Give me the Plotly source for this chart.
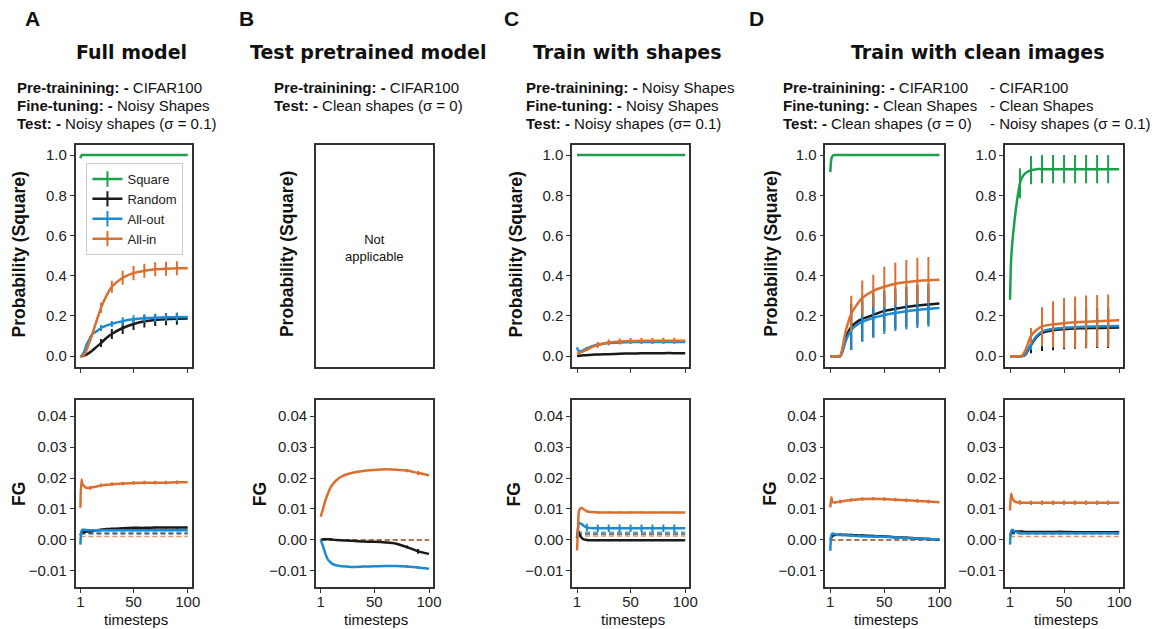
import plotly.graph_objects as go

W, H = 1168, 629          # browser window
OFF = 8                    # page body margin: figure starts 8px in
FW, FH = W - OFF, H - OFF  # figure size

# ---------------- data ----------------
T = [1, 2, 3, 5, 7, 10, 12, 15, 20, 25, 30, 40, 50, 60, 70, 80, 90, 100]
ERR_T = [10, 20, 30, 40, 50, 60, 70, 80, 90]
SERIES = ["Square", "Random", "All-out", "All-in"]
COLORS = {"Square": "#1aa04a", "Random": "#1a1a1a", "All-out": "#1b8ad3", "All-in": "#db6f30"}

# Panel A (full model)
A_prob_square = [0.985, 0.998, 1.0, 1.0, 1.0, 1.0, 1.0, 1.0, 1.0, 1.0, 1.0, 1.0, 1.0, 1.0, 1.0, 1.0, 1.0, 1.0]
A_prob_random = [0.0, 0.0, 0.001, 0.004, 0.009, 0.02, 0.028, 0.042, 0.065, 0.09, 0.11, 0.14, 0.16, 0.173, 0.18, 0.184, 0.186, 0.187]
A_prob_allout = [0.0, 0.002, 0.008, 0.03, 0.06, 0.09, 0.11, 0.12, 0.14, 0.152, 0.16, 0.174, 0.183, 0.188, 0.191, 0.193, 0.194, 0.195]
A_prob_allin = [0.0, 0.0, 0.002, 0.012, 0.035, 0.08, 0.11, 0.16, 0.24, 0.30, 0.345, 0.39, 0.413, 0.425, 0.432, 0.435, 0.437, 0.437]
A_prob_square_err = [0, 0, 0, 0, 0, 0, 0, 0, 0]
A_prob_random_err = [0.005, 0.02, 0.025, 0.03, 0.03, 0.03, 0.03, 0.03, 0.03]
A_prob_allout_err = [0.01, 0.015, 0.015, 0.02, 0.02, 0.02, 0.02, 0.02, 0.02]
A_prob_allin_err = [0.01, 0.025, 0.03, 0.035, 0.035, 0.035, 0.035, 0.035, 0.035]

A_fg_random = [0.0015, 0.0023, 0.0025, 0.0026, 0.0027, 0.0028, 0.0029, 0.0031, 0.0033, 0.0035, 0.0036, 0.0038, 0.0039, 0.0039, 0.004, 0.004, 0.004, 0.004]
A_fg_allout = [-0.0015, 0.0028, 0.0033, 0.0033, 0.0032, 0.0031, 0.0031, 0.0031, 0.0031, 0.0031, 0.0031, 0.0031, 0.0031, 0.0031, 0.0031, 0.0031, 0.0031, 0.0031]
A_fg_allin = [0.0104, 0.0195, 0.018, 0.0172, 0.0168, 0.0168, 0.017, 0.0172, 0.0176, 0.0178, 0.018, 0.0182, 0.0184, 0.0185, 0.0185, 0.0185, 0.0186, 0.0186]
A_fg_random_err = [0.0003] * 9
A_fg_allout_err = [0.0003] * 9
A_fg_allin_err = [0.0006] * 9
A_fg_baseline = {"Random": 0.002, "All-out": 0.0024, "All-in": 0.0011}

# Panel B (test pretrained model)
B_fg_random = [0.0, 0.0001, 0.0002, 0.0002, 0.0002, 0.0002, 0.0001, 0.0, -0.0001, -0.0002, -0.0003, -0.0005, -0.0006, -0.0008, -0.0012, -0.0023, -0.0037, -0.0045]
B_fg_allout = [0.0, -0.001, -0.002, -0.0042, -0.006, -0.0073, -0.0078, -0.0082, -0.0085, -0.0086, -0.0087, -0.0086, -0.0085, -0.0084, -0.0084, -0.0086, -0.0089, -0.0093]
B_fg_allin = [0.0075, 0.0088, 0.01, 0.0125, 0.0145, 0.017, 0.018, 0.0192, 0.0205, 0.0212, 0.0217, 0.0223, 0.0226, 0.0228, 0.0227, 0.0224, 0.0216, 0.0209]
B_fg_random_err = [0, 0, 0, 0, 0.0001, 0.0002, 0.0003, 0.0005, 0.0008]
B_fg_allout_err = [0, 0, 0, 0.0001, 0.0002, 0.0003, 0.0003, 0.0004, 0.0005]
B_fg_allin_err = [0, 0, 0, 0.0002, 0.0002, 0.0003, 0.0003, 0.0005, 0.0007]
B_fg_baseline = {"Random": 0.0, "All-in": 0.0}

# Panel C (train with shapes)
C_prob_square = [1.0] * 18
C_prob_random = [0.0, 0.001, 0.002, 0.003, 0.004, 0.005, 0.006, 0.007, 0.008, 0.009, 0.01, 0.012, 0.013, 0.014, 0.014, 0.015, 0.015, 0.015]
C_prob_allout = [0.044, 0.03, 0.025, 0.025, 0.03, 0.038, 0.043, 0.05, 0.057, 0.062, 0.065, 0.068, 0.07, 0.07, 0.07, 0.07, 0.07, 0.07]
C_prob_allin = [0.012, 0.014, 0.016, 0.02, 0.025, 0.033, 0.038, 0.046, 0.056, 0.063, 0.068, 0.073, 0.075, 0.076, 0.077, 0.077, 0.077, 0.077]
C_prob_square_err = [0] * 9
C_prob_random_err = [0.002] * 9
C_prob_allout_err = [0.008] * 9
C_prob_allin_err = [0.008, 0.015, 0.015, 0.015, 0.015, 0.015, 0.015, 0.015, 0.015]

C_fg_random = [0.0005, 0.003, 0.002, 0.0008, 0.0002, 0.0, -0.0001, -0.0001, -0.0001, -0.0001, -0.0001, -0.0001, -0.0001, -0.0001, -0.0001, -0.0001, -0.0001, -0.0001]
C_fg_allout = [0.001, 0.004, 0.0055, 0.0052, 0.0046, 0.004, 0.0039, 0.0038, 0.0038, 0.0038, 0.0038, 0.0038, 0.0038, 0.0038, 0.0038, 0.0038, 0.0038, 0.0038]
C_fg_allin = [-0.0034, 0.004, 0.0095, 0.0104, 0.0099, 0.0093, 0.0091, 0.009, 0.0089, 0.0089, 0.0089, 0.0089, 0.0089, 0.0089, 0.0089, 0.0089, 0.0089, 0.0089]
C_fg_random_err = [0.0003] * 9
C_fg_allout_err = [0.0012] * 9
C_fg_allin_err = [0.0004] * 9
C_fg_baseline = {"Random": 0.0019, "All-out": 0.0025, "All-in": 0.0013}

# Panel D, left (clean shapes test)
D1_prob_square = [0.915, 0.98, 0.995, 1.0, 1.0, 1.0, 1.0, 1.0, 1.0, 1.0, 1.0, 1.0, 1.0, 1.0, 1.0, 1.0, 1.0, 1.0]
D1_prob_random = [0.0, 0.0, 0.0, 0.0, 0.0, 0.0, 0.03, 0.09, 0.145, 0.17, 0.185, 0.205, 0.225, 0.235, 0.245, 0.252, 0.257, 0.262]
D1_prob_allout = [0.0, 0.0, 0.0, 0.0, 0.0, 0.0, 0.02, 0.075, 0.13, 0.155, 0.17, 0.19, 0.205, 0.215, 0.223, 0.23, 0.236, 0.24]
D1_prob_allin = [0.0, 0.0, 0.0, 0.0, 0.0, 0.0, 0.04, 0.125, 0.21, 0.255, 0.29, 0.325, 0.345, 0.36, 0.368, 0.374, 0.378, 0.38]
D1_prob_square_err = [0] * 9
D1_prob_random_err = [0, 0.115, 0.11, 0.11, 0.1, 0.1, 0.1, 0.1, 0.1]
D1_prob_allout_err = [0, 0.1, 0.1, 0.1, 0.095, 0.09, 0.09, 0.09, 0.09]
D1_prob_allin_err = [0, 0.09, 0.086, 0.08, 0.1, 0.106, 0.11, 0.115, 0.115]

D1_fg_random = [0.0, 0.0008, 0.0013, 0.0016, 0.0017, 0.0017, 0.0017, 0.0017, 0.0016, 0.0015, 0.0014, 0.0013, 0.0011, 0.0009, 0.0007, 0.0005, 0.0003, 0.0001]
D1_fg_allout = [-0.0035, 0.0015, 0.0021, 0.0019, 0.0017, 0.0016, 0.0015, 0.0015, 0.0014, 0.0013, 0.0012, 0.0011, 0.001, 0.0008, 0.0006, 0.0005, 0.0003, 0.0002]
D1_fg_allin = [0.0105, 0.0138, 0.0122, 0.0121, 0.0122, 0.0124, 0.0125, 0.0127, 0.0129, 0.0131, 0.0132, 0.0133, 0.0132, 0.013, 0.0128, 0.0126, 0.0124, 0.0122]
D1_fg_random_err = [0.0004] * 9
D1_fg_allout_err = [0.0003] * 9
D1_fg_allin_err = [0.0006] * 9
D1_fg_baseline = {"Random": 0.0, "All-in": 0.0}

# Panel D, right (noisy shapes test)
D2_prob_square = [0.28, 0.48, 0.56, 0.67, 0.76, 0.86, 0.89, 0.91, 0.925, 0.93, 0.93, 0.93, 0.93, 0.93, 0.93, 0.93, 0.93, 0.93]
D2_prob_random = [0.0, 0.0, 0.0, 0.0, 0.0, 0.0, 0.0, 0.008, 0.055, 0.095, 0.116, 0.129, 0.134, 0.137, 0.139, 0.14, 0.141, 0.142]
D2_prob_allout = [0.0, 0.0, 0.0, 0.0, 0.0, 0.0, 0.0, 0.01, 0.06, 0.1, 0.122, 0.136, 0.141, 0.144, 0.146, 0.148, 0.149, 0.15]
D2_prob_allin = [0.0, 0.0, 0.0, 0.0, 0.0, 0.0, 0.003, 0.03, 0.1, 0.13, 0.148, 0.158, 0.164, 0.168, 0.171, 0.174, 0.176, 0.178]
D2_prob_square_err = [0.075, 0.07, 0.07, 0.07, 0.07, 0.07, 0.07, 0.07, 0.07]
D2_prob_random_err = [0, 0.04, 0.09, 0.1, 0.1, 0.1, 0.1, 0.1, 0.1]
D2_prob_allout_err = [0, 0.03, 0.075, 0.08, 0.08, 0.08, 0.08, 0.08, 0.08]
D2_prob_allin_err = [0, 0.04, 0.095, 0.115, 0.125, 0.128, 0.13, 0.13, 0.13]

D2_fg_random = [0.0015, 0.0022, 0.0026, 0.0027, 0.0027, 0.0027, 0.0027, 0.0026, 0.0026, 0.0026, 0.0026, 0.0026, 0.0026, 0.0025, 0.0025, 0.0025, 0.0025, 0.0025]
D2_fg_allout = [-0.0015, 0.0028, 0.0033, 0.0028, 0.0025, 0.0023, 0.0022, 0.0022, 0.0022, 0.0022, 0.0022, 0.0022, 0.0022, 0.0022, 0.0022, 0.0022, 0.0022, 0.0022]
D2_fg_allin = [0.0095, 0.015, 0.0135, 0.0125, 0.0122, 0.0121, 0.012, 0.012, 0.012, 0.012, 0.012, 0.012, 0.012, 0.012, 0.012, 0.012, 0.012, 0.012]
D2_fg_random_err = [0.0003] * 9
D2_fg_allout_err = [0.0002] * 9
D2_fg_allin_err = [0.0007] * 9
D2_fg_baseline = {"Random": 0.002, "All-in": 0.0011}

X_TICKS = [1, 50, 100]
PROB_TICKS = [0.0, 0.2, 0.4, 0.6, 0.8, 1.0]
FG_TICKS = [-0.01, 0.0, 0.01, 0.02, 0.03, 0.04]

# ---------------- layout geometry (window pixels) ----------------
COLS = {"A": (76, 193), "B": (318, 436), "C": (576, 694), "D1": (831, 950), "D2": (1012, 1131)}
ROWS = {"top": (145, 367), "bottom": (400, 587)}
XR = [-3.5, 103.7]
YR_TOP = [-0.054, 1.05]
YR_BOT = [-0.0152, 0.0452]


def px(x):
    return (x - OFF) / FW


def py(y):
    return 1 - (y - OFF) / FH


fig = go.Figure()
layout = {}


def full_err(err):
    m = dict(zip(ERR_T, err))
    return [m.get(t, 0.0) for t in T]


def add_panel(i, col, row, series=None, baseline=None, empty=False):
    xa = "x" if i == 1 else f"x{i}"
    ya = "y" if i == 1 else f"y{i}"
    l, r = COLS[col]
    t, b = ROWS[row]
    common = dict(showline=True, mirror=True, linecolor="#333333", linewidth=1.5,
                  ticks="outside", ticklen=4, tickwidth=1.3, tickcolor="#333333",
                  showgrid=False, zeroline=False,
                  tickfont=dict(size=15, color="#222222"))
    xax = dict(common, domain=[px(l), px(r)], anchor=ya, range=XR, tickvals=X_TICKS,
               showticklabels=(row == "bottom"), ticklabelstandoff=-4)
    if row == "top":
        yax = dict(common, domain=[py(b), py(t)], anchor=xa, range=YR_TOP,
                   tickvals=PROB_TICKS, tickformat=".1f")
    else:
        yax = dict(common, domain=[py(b), py(t)], anchor=xa, range=YR_BOT,
                   tickvals=FG_TICKS, tickformat=".2f")
    if empty:
        xax.update(ticks="", showticklabels=False)
        yax.update(ticks="", showticklabels=False)
        fig.add_trace(go.Scatter(x=[], y=[], xaxis=xa, yaxis=ya, showlegend=False))
    layout["xaxis" if i == 1 else f"xaxis{i}"] = xax
    layout["yaxis" if i == 1 else f"yaxis{i}"] = yax
    if empty:
        return
    if baseline:
        for name in SERIES:
            if name in baseline:
                v = baseline[name]
                fig.add_trace(go.Scatter(
                    x=[T[0], T[-1]], y=[v, v], mode="lines", xaxis=xa, yaxis=ya,
                    line=dict(color=COLORS[name], width=1.5, dash="5px,3px"),
                    opacity=0.75, showlegend=False, hoverinfo="skip"))
    for name in SERIES:
        if name not in series:
            continue
        vals, err = series[name]
        fig.add_trace(go.Scatter(
            x=T, y=vals, mode="lines", xaxis=xa, yaxis=ya, showlegend=False,
            line=dict(color=COLORS[name], width=2.5, shape="spline", smoothing=0.8),
            error_y=dict(type="data", array=full_err(err), symmetric=True, width=0,
                         thickness=2, color=COLORS[name])))


add_panel(1, "A", "top", {"Square": (A_prob_square, A_prob_square_err),
                          "Random": (A_prob_random, A_prob_random_err),
                          "All-out": (A_prob_allout, A_prob_allout_err),
                          "All-in": (A_prob_allin, A_prob_allin_err)})
add_panel(2, "A", "bottom", {"Random": (A_fg_random, A_fg_random_err),
                             "All-out": (A_fg_allout, A_fg_allout_err),
                             "All-in": (A_fg_allin, A_fg_allin_err)}, A_fg_baseline)
add_panel(3, "B", "top", empty=True)
add_panel(4, "B", "bottom", {"Random": (B_fg_random, B_fg_random_err),
                             "All-out": (B_fg_allout, B_fg_allout_err),
                             "All-in": (B_fg_allin, B_fg_allin_err)}, B_fg_baseline)
add_panel(5, "C", "top", {"Square": (C_prob_square, C_prob_square_err),
                          "Random": (C_prob_random, C_prob_random_err),
                          "All-out": (C_prob_allout, C_prob_allout_err),
                          "All-in": (C_prob_allin, C_prob_allin_err)})
add_panel(6, "C", "bottom", {"Random": (C_fg_random, C_fg_random_err),
                             "All-out": (C_fg_allout, C_fg_allout_err),
                             "All-in": (C_fg_allin, C_fg_allin_err)}, C_fg_baseline)
add_panel(7, "D1", "top", {"Square": (D1_prob_square, D1_prob_square_err),
                           "Random": (D1_prob_random, D1_prob_random_err),
                           "All-out": (D1_prob_allout, D1_prob_allout_err),
                           "All-in": (D1_prob_allin, D1_prob_allin_err)})
add_panel(8, "D1", "bottom", {"Random": (D1_fg_random, D1_fg_random_err),
                              "All-out": (D1_fg_allout, D1_fg_allout_err),
                              "All-in": (D1_fg_allin, D1_fg_allin_err)}, D1_fg_baseline)
add_panel(9, "D2", "top", {"Square": (D2_prob_square, D2_prob_square_err),
                           "Random": (D2_prob_random, D2_prob_random_err),
                           "All-out": (D2_prob_allout, D2_prob_allout_err),
                           "All-in": (D2_prob_allin, D2_prob_allin_err)})
add_panel(10, "D2", "bottom", {"Random": (D2_fg_random, D2_fg_random_err),
                               "All-out": (D2_fg_allout, D2_fg_allout_err),
                               "All-in": (D2_fg_allin, D2_fg_allin_err)}, D2_fg_baseline)

# legend entries (panel A)
for name in SERIES:
    fig.add_trace(go.Scatter(
        x=[None], y=[None], mode="lines+markers", name=name, xaxis="x", yaxis="y",
        line=dict(color=COLORS[name], width=2.5),
        marker=dict(symbol="line-ns-open", size=11, color=COLORS[name],
                    line=dict(color=COLORS[name], width=2))))

# ---------------- text ----------------
ann = []


def text(s, x, y, size, bold=False, angle=0, xanchor="center", yanchor="middle",
         family="Liberation Sans, Arial, sans-serif", color="#111111"):
    ann.append(dict(text=(f"<b>{s}</b>" if bold else s), x=px(x), y=py(y),
                    xref="paper", yref="paper", showarrow=False, textangle=angle,
                    xanchor=xanchor, yanchor=yanchor,
                    font=dict(size=size, family=family, color=color)))


for letter, x in [("A", 33), ("B", 248), ("C", 515), ("D", 762)]:
    text(letter, x, 19, 21, bold=True)

TITLE_FONT = "DejaVu Sans, Arial Black, sans-serif"
for title, x in [("Full model", 132), ("Test pretrained model", 371),
                 ("Train with shapes", 631), ("Train with clean images", 985)]:
    text(title, x, 52, 19, bold=True, family=TITLE_FONT)

LINE_Y = [87, 105.5, 124]
SUBTITLES = [
    (15, [("Pre-trainining:", "CIFAR100"), ("Fine-tuning:", "Noisy Shapes"),
          ("Test:", "Noisy shapes (σ = 0.1)")]),
    (274, [("Pre-trainining:", "CIFAR100"), ("Test:", "Clean shapes (σ = 0)")]),
    (528, [("Pre-trainining:", "Noisy Shapes"), ("Fine-tuning:", "Noisy Shapes"),
           ("Test:", "Noisy shapes (σ= 0.1)")]),
    (786, [("Pre-trainining:", "CIFAR100"), ("Fine-tuning:", "Clean Shapes"),
           ("Test:", "Clean shapes (σ = 0)")]),
]
for x0, lines in SUBTITLES:
    for (lab, val), y in zip(lines, LINE_Y):
        text(f"<b>{lab} -</b> {val}", x0, y, 15, xanchor="left")
for val, y in zip(["- CIFAR100", "- Clean Shapes", "- Noisy shapes (σ = 0.1)"], LINE_Y):
    text(val, 995, y, 15, xanchor="left")

for x in [19.5, 289, 520, 776]:
    text("Probability (Square)", x, 254, 17.5, bold=True, angle=-90)
for x in [19, 262, 518, 775]:
    text("FG", x, 494, 17.5, bold=True, angle=-90)

for col in ["A", "B", "C", "D1", "D2"]:
    l, r = COLS[col]
    text("timesteps", (l + r) / 2 + 2, 619, 15)

text("Not<br>applicable", 377, 248, 13)

layout.update(
    width=FW, height=FH, margin=dict(l=0, r=0, t=0, b=0),
    paper_bgcolor="white", plot_bgcolor="white",
    font=dict(family="Liberation Sans, Arial, sans-serif", color="#222222"),
    showlegend=True,
    legend=dict(x=px(87), y=py(163), xanchor="left", yanchor="top",
                bgcolor="white", bordercolor="#cccccc", borderwidth=1,
                font=dict(size=13, color="#222222"), itemwidth=30, tracegroupgap=0),
    annotations=ann,
)
fig.update_layout(**layout)
fig.write_html("out.html")
